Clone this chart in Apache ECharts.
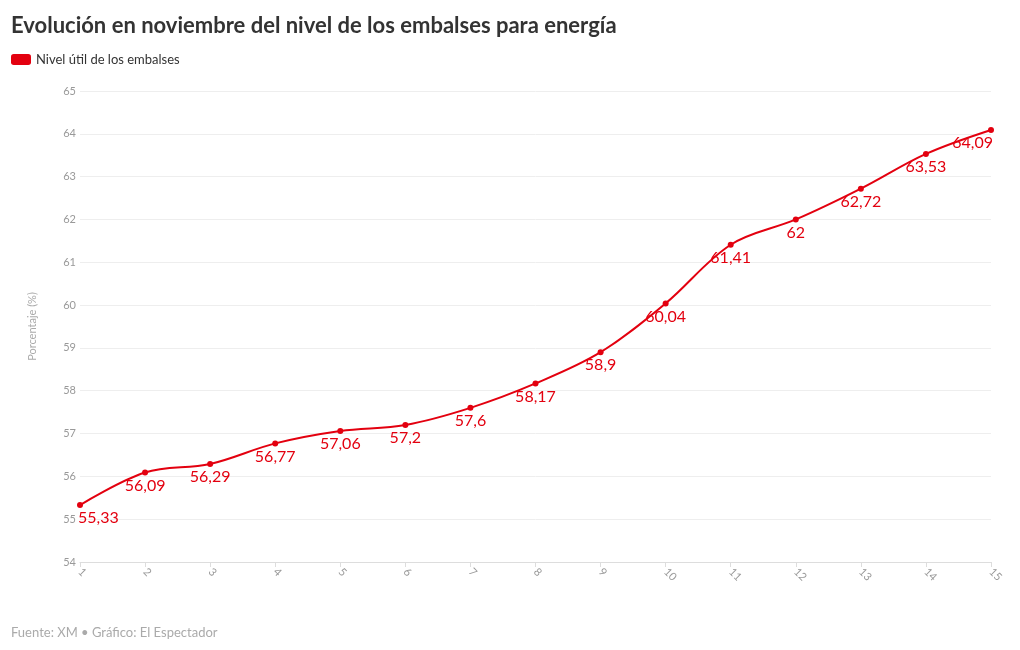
<!DOCTYPE html>
<html><head><meta charset="utf-8">
<script src="https://cdn.jsdelivr.net/npm/echarts@6/dist/echarts.min.js"></script>
<style>html,body{margin:0;padding:0;background:#fff}#c{width:1020px;height:650px}</style>
</head><body><div id="c"></div>
<script>
const days = ['1','2','3','4','5','6','7','8','9','10','11','12','13','14','15'];
const nivel = [55.33,56.09,56.29,56.77,57.06,57.2,57.6,58.17,58.9,60.04,61.41,62,62.72,63.53,64.09];
const yTicks = {min:54, max:65, interval:1};
const FONT = 'Lato, "Open Sans", sans-serif';
const RED = '#e3000f';
const chart = echarts.init(document.getElementById('c'), null, {renderer:'canvas'});
const fmt = v => String(v).replace('.', ',');
const data = nivel.map((v,i) => {
  const item = {value: v};
  if (i === 0) item.label = {align:'left', offset:[-2,0]};
  if (i === nivel.length-1) item.label = {align:'right', offset:[2,0]};
  return item;
});
chart.setOption({
  animation:false,
  title:{text:'Evolución en noviembre del nivel de los embalses para energía', left:6, top:10,
    textStyle:{fontFamily:FONT, fontSize:22, fontWeight:'bold', color:'#333'}},
  legend:{left:6, top:48, itemWidth:20, itemHeight:11, itemGap:10, icon:'roundRect',
    textStyle:{fontFamily:FONT, fontSize:13, color:'#333'},
    data:[{name:'Nivel útil de los embalses', itemStyle:{color:RED}}]},
  grid:{left:80, right:29, top:91, bottom:88},
  xAxis:{type:'category', data:days, boundaryGap:false,
    axisLine:{lineStyle:{color:'#ddd'}}, axisTick:{show:true, lineStyle:{color:'#ddd'}, length:5},
    axisLabel:{rotate:-45, color:'#999', fontFamily:FONT, fontSize:11, margin:8}},
  yAxis:{type:'value', min:yTicks.min, max:yTicks.max, interval:yTicks.interval,
    name:'Porcentaje (%)', nameLocation:'middle', nameGap:42, nameRotate:90,
    nameTextStyle:{color:'#aaa', fontFamily:FONT, fontSize:11},
    axisLine:{show:false}, axisTick:{show:false},
    axisLabel:{color:'#999', fontFamily:FONT, fontSize:11, margin:4},
    splitLine:{lineStyle:{color:'#eee'}}},
  series:[{name:'Nivel útil de los embalses', type:'line', smooth:0.35, data:data,
    symbol:'circle', symbolSize:6, color:RED,
    lineStyle:{width:2, color:RED}, itemStyle:{color:RED},
    label:{show:true, position:'bottom', distance:2, color:RED, fontFamily:FONT, fontSize:16,
      formatter:p => fmt(p.value)}}],
  graphic:[{type:'text', left:11, top:626, style:{text:'Fuente: XM • Gráfico: El Espectador',
    fill:'#aaa', font:'13px '+FONT}}]
});
</script></body></html>
